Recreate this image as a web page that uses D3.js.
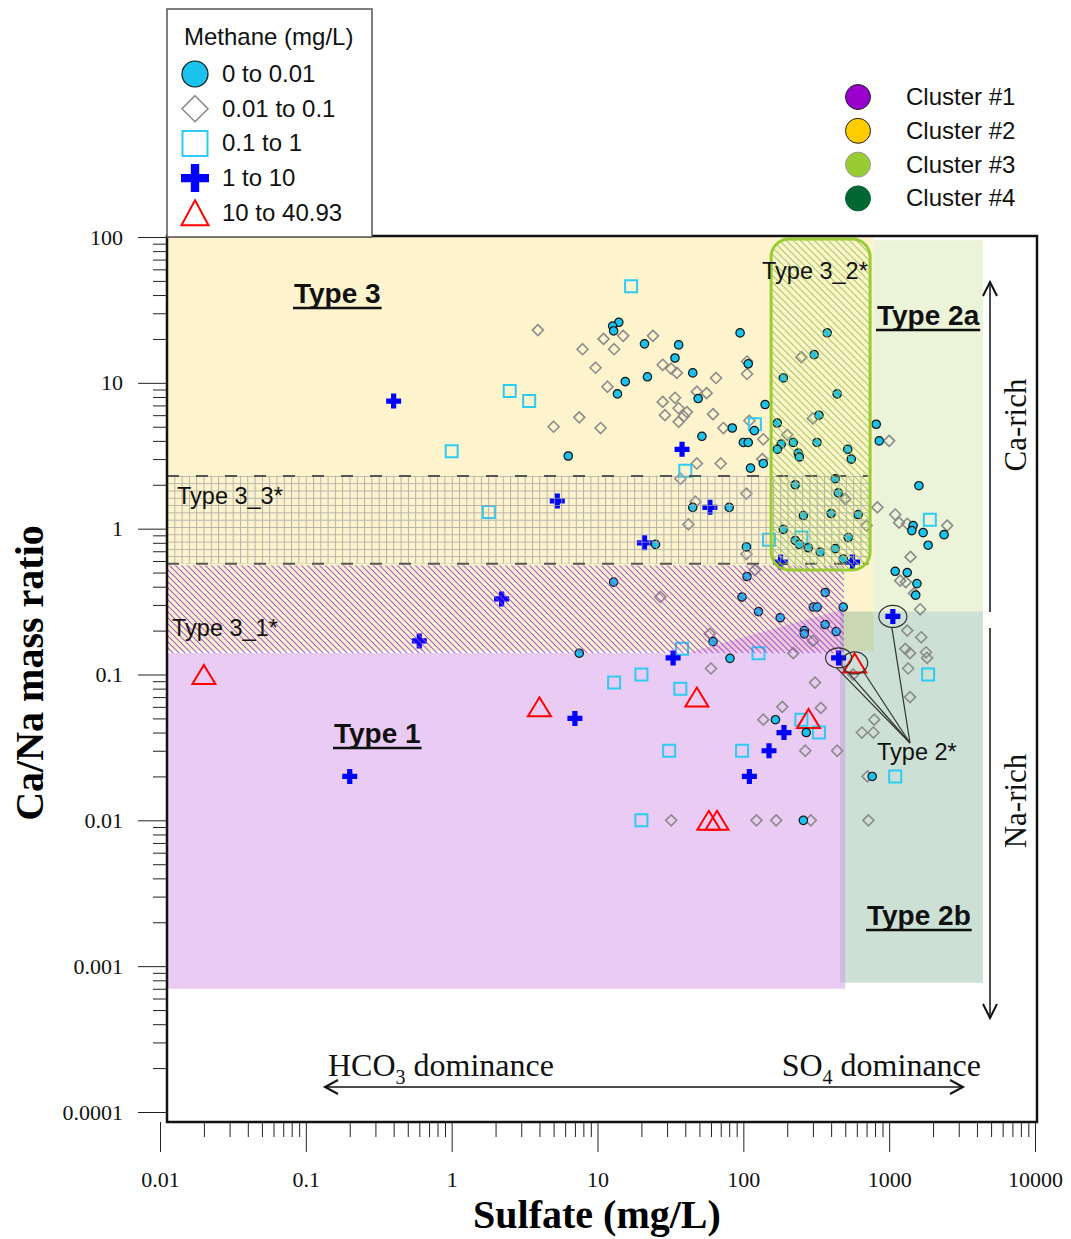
<!DOCTYPE html>
<html>
<head>
<meta charset="utf-8">
<script src="https://cdn.jsdelivr.net/npm/d3@7"></script>
<style>
  body { margin: 0; background: #fff; }
</style>
</head>
<body>
<div id="wrapper"></div>
<script>
// Axis ticks
const sulfateTicks = [0.01, 0.1, 1, 10, 100, 1000, 10000];
const sulfateTickLabels = ["0.01", "0.1", "1", "10", "100", "1000", "10000"];
const ratioTicks = [100, 10, 1, 0.1, 0.01, 0.001, 0.0001];
const ratioTickLabels = ["100", "10", "1", "0.1", "0.01", "0.001", "0.0001"];

// Legends
const methaneClasses = ["0 to 0.01", "0.01 to 0.1", "0.1 to 1", "1 to 10", "10 to 40.93"];
const clusterNames = ["Cluster #1", "Cluster #2", "Cluster #3", "Cluster #4"];

// Samples: [sulfate (mg/L), Ca/Na mass ratio], one array per methane class
const methane0to001 = [
  [14, 26], [12.7, 24.5], [12.9, 22.7], [21, 18.5], [36, 18.2], [34, 14.8], [15.5, 10.2], [22, 11],
  [13.7, 8.4], [45, 11.7], [95, 22], [108, 13.5], [49, 7.8], [6.3, 3.15], [52, 4.3], [84, 4.9],
  [100, 3.9], [108, 3.9], [119, 4.7], [141, 7.1], [112, 2.6], [137, 2.8], [171, 5.3], [188, 10.8],
  [182, 3.8], [171, 3.5], [220, 3.9], [238, 3.3], [242, 3.1], [45, 1.4], [80, 1.4], [25, 0.78],
  [105, 0.75], [188, 0.99], [227, 2.0], [330, 6.0], [440, 8.4], [320, 3.9], [520, 3.5], [550, 3.0],
  [815, 5.2], [855, 4.0], [427, 2.2], [448, 1.76], [258, 1.23], [400, 1.27], [613, 1.25], [524, 0.87],
  [227, 0.83], [242, 0.78], [279, 0.74], [337, 0.69], [427, 0.73], [484, 0.62], [106, 0.47], [376, 22],
  [306, 15.6], [1600, 1.97], [1460, 1.05], [1430, 0.97], [1710, 0.94], [1850, 0.77], [2380, 0.91],
  [1100, 0.51], [1330, 0.5], [1550, 0.42], [1520, 0.35], [484, 0.29], [7.5, 0.14], [12.9, 0.43],
  [98, 0.34], [127, 0.27], [179, 0.245], [302, 0.29], [321, 0.29], [364, 0.365], [262, 0.2],
  [262, 0.19], [364, 0.22], [433, 0.197], [62, 0.168], [81, 0.129], [166, 0.049], [270, 0.04],
  [765, 0.02], [258, 0.01]
];
const methane001to01 = [
  [3.9, 23], [7.9, 17], [11, 20], [15, 21], [13, 17], [24, 21], [9.7, 12.7], [11.7, 9.4], [28, 13.3],
  [32, 12.5], [35, 11.7], [48, 8.7], [7.5, 5.8], [5, 5], [10.5, 4.9], [28, 7.4], [34, 7.9], [36, 6.7],
  [41, 6.3], [29, 6.0], [36, 5.4], [39, 5.9], [48, 2.8], [37, 2.2], [47, 1.53], [42, 1.07], [65, 10.8],
  [106, 14], [106, 11.5], [56, 8.5], [62, 6.1], [73, 4.9], [110, 5.5], [137, 4.1], [70, 2.8], [135, 3.0],
  [105, 1.74], [105, 0.67], [250, 15], [200, 4.4], [300, 5.7], [500, 1.6], [830, 1.4], [1100, 1.25],
  [1170, 1.1], [1330, 1.08], [2500, 1.05], [700, 1.05], [1400, 0.64], [1000, 4.0], [1190, 0.44],
  [1300, 0.43], [1480, 0.36], [1630, 0.28], [1330, 0.2], [1660, 0.18], [1290, 0.15], [1390, 0.14],
  [1790, 0.142], [1820, 0.13], [1350, 0.11], [1390, 0.07], [120, 0.52], [27, 0.34], [59, 0.19],
  [220, 0.14], [300, 0.17], [60, 0.11], [310, 0.088], [185, 0.06], [137, 0.049], [340, 0.059],
  [266, 0.03], [440, 0.03], [790, 0.049], [650, 0.04], [780, 0.04], [710, 0.02], [32, 0.01],
  [123, 0.01], [168, 0.01], [290, 0.01], [720, 0.01], [567, 0.1]
];
const methane01to1 = [
  [17, 46], [2.5, 8.8], [3.4, 7.5], [1.0, 3.4], [1.8, 1.3], [40, 2.5], [120, 5.2], [150, 0.84],
  [250, 0.87], [1900, 1.15], [1850, 0.1], [1100, 0.02], [20, 0.1], [13, 0.088], [37, 0.08],
  [38, 0.15], [127, 0.14], [31, 0.03], [98, 0.03], [250, 0.049], [330, 0.04], [20, 0.01]
];
const methane1to10 = [
  [0.4, 7.5], [5.3, 1.55], [0.2, 0.02], [0.6, 0.17], [2.2, 0.33], [7, 0.05], [21, 0.8], [38, 3.5],
  [59, 1.4], [33, 0.13], [190, 0.04], [150, 0.03], [110, 0.02], [450, 0.13], [1060, 0.25],
  [180, 0.59], [560, 0.59]
];
const methane10to41 = [
  [0.02, 0.1], [4, 0.06], [48, 0.07], [280, 0.05], [580, 0.12], [58, 0.01], [66, 0.01]
];

// Samples ringed as "Type 2*"
const type2Star = [[450, 0.13], [580, 0.12], [1060, 0.25]];

// Water type zones, limits in [sulfate], [ratio]; null = frame edge
const zoneType3 = {sulfate: [null, 780], ratio: [0.145, null]};
const zoneType2a = {sulfate: [780, 4400], ratio: [0.27, 95]};
const zoneType2b = {sulfate: [460, 4400], ratio: [0.00077, 0.27]};
const zoneType1 = {sulfate: [null, 500], ratio: [0.0007, 0.14]};
const zoneType3_1 = {sulfate: [null, 490], ratio: [0.14, 0.56]};
const zoneType3_3 = {sulfate: [null, 720], ratio: [0.575, 2.3]};
const zoneType3_2 = {sulfate: [155, 740], ratio: [0.52, 97]};
const wedgeType1 = [[40, 0.14], [490, 0.28], [490, 0.14]];

function draw() {
  const dimensions = {width: 1071, height: 1239};
  const frame = {left: 167, right: 1037, top: 236, bottom: 1122};
  const serif = "'Liberation Serif', 'Times New Roman', serif";
  const sans = "'Liberation Sans', Arial, sans-serif";

  const svg = d3.select("#wrapper")
    .append("svg")
    .attr("width", dimensions.width)
    .attr("height", dimensions.height);

  const x = d3.scaleLog().domain([0.01, 10000]).range([160, 1035]);
  const y = d3.scaleLog().domain([0.0001, 100]).range([1112, 237]);

  // Patterns
  const defs = svg.append("defs");
  defs.append("pattern").attr("id", "hatchPurple")
    .attr("patternUnits", "userSpaceOnUse").attr("width", 6).attr("height", 6)
    .append("path").attr("d", "M0,0L6,6M-1,5L1,7M5,-1L7,1")
    .attr("stroke", "#9A3FD0").attr("stroke-width", 1.1);
  defs.append("pattern").attr("id", "hatchGreen")
    .attr("patternUnits", "userSpaceOnUse").attr("width", 7).attr("height", 7)
    .append("path").attr("d", "M0,0L7,7M-1,6L1,8M6,-1L8,1")
    .attr("stroke", "#94C94A").attr("stroke-width", 1.1);
  defs.append("pattern").attr("id", "gridGray")
    .attr("patternUnits", "userSpaceOnUse").attr("width", 7.3).attr("height", 7.3)
    .attr("x", frame.left).attr("y", y(zoneType3_3.ratio[1]))
    .append("path").attr("d", "M0,0.5H7.3M0.5,0V7.3")
    .attr("stroke", "#a3a3a3").attr("stroke-width", 1);

  const zoneBox = z => {
    const x0 = z.sulfate[0] == null ? frame.left : x(z.sulfate[0]);
    const x1 = z.sulfate[1] == null ? frame.right : x(z.sulfate[1]);
    const y0 = z.ratio[1] == null ? frame.top : y(z.ratio[1]);
    const y1 = z.ratio[0] == null ? frame.bottom : y(z.ratio[0]);
    return {x: x0, y: y0, width: x1 - x0, height: y1 - y0};
  };
  const zoneRect = (g, z) => {
    const b = zoneBox(z);
    return g.append("rect").attr("x", b.x).attr("y", b.y).attr("width", b.width).attr("height", b.height);
  };

  // Zone fills
  const zones = svg.append("g");
  zoneRect(zones, zoneType3).attr("fill", "#FDF3CD");
  zoneRect(zones, zoneType2a).attr("fill", "#EBF3D8");
  zoneRect(zones, zoneType2b).attr("fill", "#559876").attr("opacity", 0.3);
  zoneRect(zones, zoneType1).attr("fill", "#D597E9").attr("opacity", 0.5);
  zones.append("path")
    .attr("d", d3.line().x(d => x(d[0])).y(d => y(d[1]))(wedgeType1) + "Z")
    .attr("fill", "#D597E9").attr("opacity", 0.45);

  // Markers
  const markerStyle = {
    circle: {fill: "#19C3EE", stroke: "#111", width: 1.2},
    diamond: {fill: "none", stroke: "#8c8c8c", width: 1.6},
    square: {fill: "none", stroke: "#2ECBF4", width: 2},
    plus: {fill: "#0000FF", stroke: "none", width: 0},
    triangle: {fill: "none", stroke: "#FF0000", width: 2}
  };
  const plotSize = {circle: [4.2], diamond: [5.5], square: [6], plus: [7.5, 2.6], triangle: [11.5, 9.5]};
  const legendSize = {circle: [13], diamond: [13], square: [12.5], plus: [14, 4.2], triangle: [13.5, 12.5]};
  const markerPath = (type, s) => {
    if (type === "circle") {
      const r = s[0];
      return `M${-r},0a${r},${r} 0 1,0 ${2 * r},0a${r},${r} 0 1,0 ${-2 * r},0Z`;
    }
    if (type === "diamond") {
      const h = s[0];
      return `M0,${-h}L${h},0L0,${h}L${-h},0Z`;
    }
    if (type === "square") {
      const h = s[0];
      return `M${-h},${-h}H${h}V${h}H${-h}Z`;
    }
    if (type === "plus") {
      const h = s[0], t = s[1];
      return `M${-t},${-h}H${t}V${-t}H${h}V${t}H${t}V${h}H${-t}V${t}H${-h}V${-t}H${-t}Z`;
    }
    const w = s[0], h = s[1];
    return `M0,${-h}L${w},${h}L${-w},${h}Z`;
  };
  const markerTypes = ["circle", "diamond", "square", "plus", "triangle"];
  const series = [methane0to001, methane001to01, methane01to1, methane1to10, methane10to41];
  const drawOrder = [1, 2, 4, 3, 0];

  const points = svg.append("g");
  drawOrder.forEach(i => {
    const type = markerTypes[i];
    const st = markerStyle[type];
    points.append("g")
      .selectAll("path")
      .data(series[i])
      .enter()
      .append("path")
      .attr("transform", d => `translate(${x(d[0])},${y(d[1])})`)
      .attr("d", markerPath(type, plotSize[type]))
      .attr("fill", st.fill)
      .attr("stroke", st.stroke)
      .attr("stroke-width", st.width);
  });

  // Hatched / gridded sub-types drawn over the samples
  const overlays = svg.append("g");
  zoneRect(overlays, zoneType3_1).attr("fill", "url(#hatchPurple)").attr("opacity", 0.85);
  const g33 = zoneBox(zoneType3_3);
  zoneRect(overlays, zoneType3_3).attr("fill", "url(#gridGray)").attr("opacity", 0.8);
  [g33.y, g33.y + g33.height].forEach(yy => {
    overlays.append("line")
      .attr("x1", frame.left).attr("x2", g33.x + g33.width)
      .attr("y1", yy).attr("y2", yy)
      .attr("stroke", "#555").attr("stroke-width", 2)
      .attr("stroke-dasharray", "12,17");
  });
  const b32 = zoneBox(zoneType3_2);
  overlays.append("rect")
    .attr("x", b32.x).attr("y", b32.y).attr("width", b32.width).attr("height", b32.height)
    .attr("rx", 18).attr("ry", 18)
    .attr("fill", "url(#hatchGreen)").attr("fill-opacity", 0.85)
    .attr("stroke", "#99CC33").attr("stroke-width", 3);

  // Frame
  svg.append("rect")
    .attr("x", frame.left).attr("y", frame.top)
    .attr("width", frame.right - frame.left).attr("height", frame.bottom - frame.top)
    .attr("fill", "none").attr("stroke", "#111").attr("stroke-width", 2.5);

  // Axes
  const minorValues = (lo, hi) => {
    const v = [];
    for (let k = lo; k <= hi; k++) {
      for (let m = 2; m <= 9; m++) v.push(m * Math.pow(10, k));
    }
    return v;
  };
  const xAxis = svg.append("g").attr("transform", `translate(0,${frame.bottom})`);
  xAxis.call(d3.axisBottom(x).tickValues(sulfateTicks).tickSize(30).tickPadding(19)
    .tickFormat((d, i) => sulfateTickLabels[i]));
  xAxis.append("g").call(d3.axisBottom(x).tickValues(minorValues(-2, 3)).tickSize(15).tickFormat(""));
  const yAxis = svg.append("g").attr("transform", `translate(${frame.left},0)`);
  yAxis.call(d3.axisLeft(y).tickValues(ratioTicks).tickSize(29).tickPadding(15)
    .tickFormat((d, i) => ratioTickLabels[i]));
  yAxis.append("g").call(d3.axisLeft(y).tickValues(minorValues(-4, 1)).tickSize(14).tickFormat(""));
  svg.selectAll(".domain").remove();
  svg.selectAll(".tick line").attr("stroke", "#222").attr("stroke-width", 1);
  svg.selectAll(".tick text").attr("font-family", serif).attr("font-size", 22).attr("fill", "#111");

  // Axis titles
  svg.append("text")
    .attr("transform", "translate(43,673) rotate(-90)")
    .attr("text-anchor", "middle")
    .attr("font-family", serif).attr("font-weight", "bold").attr("font-size", 40)
    .text("Ca/Na mass ratio");
  svg.append("text")
    .attr("x", 597).attr("y", 1228)
    .attr("text-anchor", "middle")
    .attr("font-family", serif).attr("font-weight", "bold").attr("font-size", 40)
    .text("Sulfate (mg/L)");

  // Zone labels
  const labels = svg.append("g").attr("font-family", sans).attr("fill", "#111");
  const boldLabel = (txt, lx, ly) => {
    const t = labels.append("text").attr("x", lx).attr("y", ly)
      .attr("font-size", 28).attr("font-weight", "bold").text(txt);
    const len = t.node().getComputedTextLength();
    labels.append("line")
      .attr("x1", lx - 1).attr("x2", lx + len + 1)
      .attr("y1", ly + 5).attr("y2", ly + 5)
      .attr("stroke", "#111").attr("stroke-width", 2.5);
  };
  boldLabel("Type 3", 294, 303);
  boldLabel("Type 2a", 877, 325);
  boldLabel("Type 1", 334, 743);
  boldLabel("Type 2b", 867, 925);
  [["Type 3_2*", 762, 279], ["Type 3_3*", 177, 504], ["Type 3_1*", 172, 636], ["Type 2*", 877, 760]]
    .forEach(d => {
      labels.append("text").attr("x", d[1]).attr("y", d[2]).attr("font-size", 23.5).text(d[0]);
    });

  // Type 2* rings and leader lines
  const ringSize = [[13, 10], [13, 11], [14, 11]];
  const leaderFrom = [[[-2, 10]], [[-6, 10], [9, 9]], [[-1, 11]]];
  const leaderTo = [910, 743];
  const rings = svg.append("g").attr("fill", "none").attr("stroke", "#333").attr("stroke-width", 1.2);
  type2Star.forEach((d, i) => {
    const cx = x(d[0]), cy = y(d[1]);
    rings.append("ellipse").attr("cx", cx).attr("cy", cy)
      .attr("rx", ringSize[i][0]).attr("ry", ringSize[i][1]);
    leaderFrom[i].forEach(o => {
      rings.append("line")
        .attr("x1", cx + o[0]).attr("y1", cy + o[1])
        .attr("x2", leaderTo[0]).attr("y2", leaderTo[1]);
    });
  });

  // Direction arrows
  const arrows = svg.append("g").attr("stroke", "#111").attr("fill", "none");
  arrows.append("line").attr("x1", 990).attr("x2", 990).attr("y1", 283).attr("y2", 612).attr("stroke-width", 1.5);
  arrows.append("path").attr("d", "M983,296L990,282L997,296").attr("stroke-width", 2);
  arrows.append("line").attr("x1", 990).attr("x2", 990).attr("y1", 628).attr("y2", 1017).attr("stroke-width", 1.5);
  arrows.append("path").attr("d", "M983,1004L990,1018L997,1004").attr("stroke-width", 2);
  arrows.append("line").attr("x1", 326).attr("x2", 962).attr("y1", 1087).attr("y2", 1087).attr("stroke-width", 1.5);
  arrows.append("path").attr("d", "M338,1080L325,1087L338,1094").attr("stroke-width", 2);
  arrows.append("path").attr("d", "M950,1080L963,1087L950,1094").attr("stroke-width", 2);

  const notes = svg.append("g").attr("font-family", serif).attr("fill", "#111");
  notes.append("text").attr("transform", "translate(1026,425) rotate(-90)")
    .attr("text-anchor", "middle").attr("font-size", 31).text("Ca-rich");
  notes.append("text").attr("transform", "translate(1026,801) rotate(-90)")
    .attr("text-anchor", "middle").attr("font-size", 31).text("Na-rich");
  const hco = notes.append("text").attr("x", 328).attr("y", 1076).attr("font-size", 32);
  hco.append("tspan").text("HCO");
  hco.append("tspan").attr("font-size", 20).attr("dy", 8).text("3");
  hco.append("tspan").attr("dy", -8).text(" dominance");
  const so = notes.append("text").attr("x", 981).attr("y", 1076).attr("font-size", 32).attr("text-anchor", "end");
  so.append("tspan").text("SO");
  so.append("tspan").attr("font-size", 20).attr("dy", 8).text("4");
  so.append("tspan").attr("dy", -8).text(" dominance");

  // Methane legend
  const legend = svg.append("g").attr("font-family", sans).attr("fill", "#111");
  legend.append("rect")
    .attr("x", 167).attr("y", 9).attr("width", 205).attr("height", 228)
    .attr("fill", "#fff").attr("stroke", "#555").attr("stroke-width", 1.5);
  legend.append("text").attr("x", 184).attr("y", 45).attr("font-size", 24).text("Methane (mg/L)");
  methaneClasses.forEach((c, i) => {
    const type = markerTypes[i];
    const st = markerStyle[type];
    const cy = 74 + i * 34.7;
    legend.append("path")
      .attr("transform", `translate(195,${cy})`)
      .attr("d", markerPath(type, legendSize[type]))
      .attr("fill", st.fill).attr("stroke", st.stroke).attr("stroke-width", st.width);
    legend.append("text").attr("x", 222).attr("y", cy + 8).attr("font-size", 24).text(c);
  });

  // Cluster legend
  const clusterFill = ["#9900CC", "#FFCC00", "#99CC33", "#006633"];
  const clusterStroke = ["#222", "#222", "#999", "#006633"];
  const clusters = svg.append("g").attr("font-family", sans).attr("fill", "#111");
  clusterNames.forEach((c, i) => {
    const cy = 97 + i * 33.8;
    clusters.append("circle").attr("cx", 858).attr("cy", cy).attr("r", 12.5)
      .attr("fill", clusterFill[i]).attr("stroke", clusterStroke[i]).attr("stroke-width", 1);
    clusters.append("text").attr("x", 906).attr("y", cy + 8).attr("font-size", 24).text(c);
  });
}
draw();
</script>
</body>
</html>
